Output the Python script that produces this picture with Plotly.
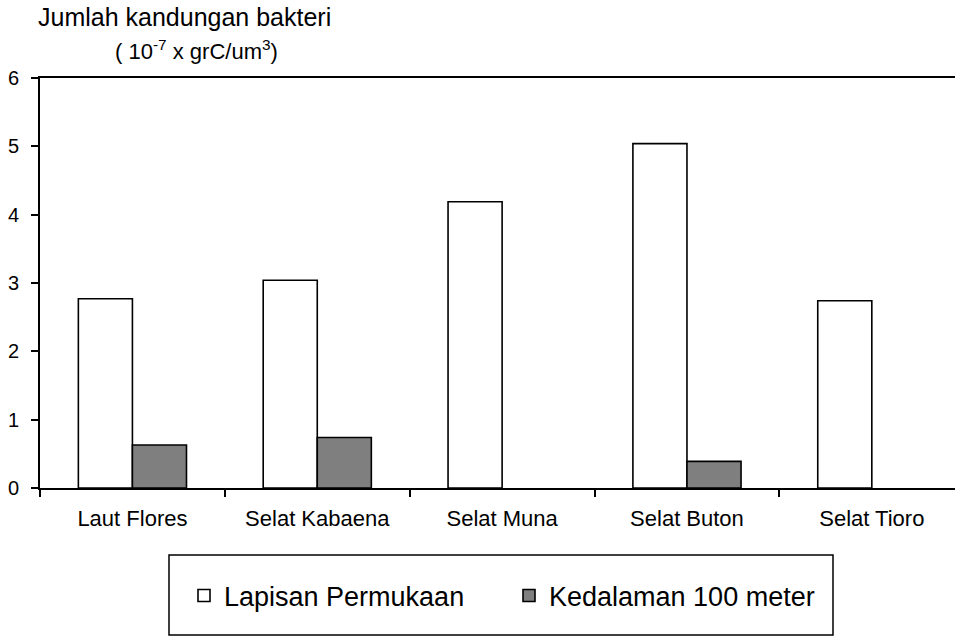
import plotly.graph_objects as go

categories = ["Laut Flores", "Selat Kabaena", "Selat Muna", "Selat Buton", "Selat Tioro"]
surface = [2.77, 3.04, 4.19, 5.04, 2.74]
depth100 = [0.63, 0.74, None, 0.39, None]
series_names = ["Lapisan Permukaan", "Kedalaman 100 meter"]
y_ticks = [0, 1, 2, 3, 4, 5, 6]

FONT = "Liberation Sans, Arial, sans-serif"

fig = go.Figure()
fig.add_trace(go.Bar(x=categories, y=surface, name=series_names[0],
                     marker=dict(color="white", line=dict(color="black", width=1.6))))
fig.add_trace(go.Bar(x=categories, y=depth100, name=series_names[1],
                     marker=dict(color="#7f7f7f", line=dict(color="black", width=1.6))))

W, H = 955, 637
L, R, T, B = 40, 0, 78, 149
pw = W - L - R
ph = H - T - B

def px_x(px):
    return (px - L) / pw

def px_y(py):
    return (H - B - py) / ph

fig.update_layout(
    width=W, height=H,
    margin=dict(l=L, r=R, t=T, b=B),
    paper_bgcolor="white", plot_bgcolor="white",
    barmode="group", bargap=0.415, bargroupgap=0,
    font=dict(family=FONT, color="black"),
    showlegend=True,
    legend=dict(orientation="h", x=px_x(184), y=px_y(596), xanchor="left", yanchor="middle",
                font=dict(size=27, family=FONT), bgcolor="rgba(0,0,0,0)", borderwidth=0,
                itemclick=False, traceorder="normal", entrywidth=280, itemwidth=30),
    xaxis=dict(type="category", range=[-0.5, 4.45], showline=True, linecolor="black", linewidth=2,
               mirror=True, ticks="outside", tickson="boundaries", ticklen=7, tickwidth=1.5,
               tickcolor="black", showgrid=False, tickfont=dict(size=22, family=FONT),
               ticklabelstandoff=10),
    yaxis=dict(range=[0, 6], tickvals=y_ticks, showline=True, linecolor="black", linewidth=2,
               ticks="outside", ticklen=7, tickwidth=1.5, tickcolor="black", showgrid=False,
               zeroline=False, tickfont=dict(size=20, family=FONT), ticklabelstandoff=8),
    shapes=[dict(type="rect", xref="paper", yref="paper",
                 x0=px_x(169), x1=px_x(833), y0=px_y(635), y1=px_y(555),
                 line=dict(color="black", width=1.5), fillcolor="rgba(0,0,0,0)", layer="below")],
    annotations=[
        dict(text="Jumlah kandungan bakteri", xref="paper", yref="paper",
             x=px_x(36), y=px_y(17), xanchor="left", yanchor="middle", showarrow=False,
             font=dict(size=25, family=FONT)),
        dict(text="( 10<sup>-7</sup> x grC/um<sup>3</sup>)", xref="paper", yref="paper",
             x=px_x(196), y=px_y(50), xanchor="center", yanchor="middle", showarrow=False,
             font=dict(size=22, family=FONT)),
    ],
)

fig.write_html("out.html", config={"displayModeBar": False},
               post_script="document.body.style.margin='0';document.body.style.overflow='hidden';")
